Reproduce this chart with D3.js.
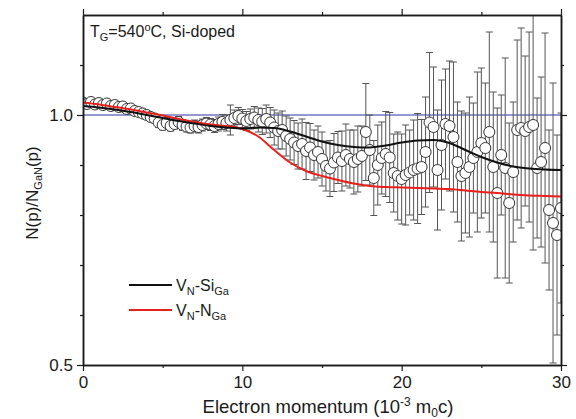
<!DOCTYPE html>
<html>
<head>
<meta charset="utf-8">
<script src="https://cdn.jsdelivr.net/npm/d3@7/dist/d3.min.js"></script>
<style>
body { margin: 0; background: #fff; }
text { font-family: "Liberation Sans", Arial, sans-serif; fill: #1a1a1a; }
</style>
</head>
<body>
<div class="canva"></div>
<script>
// measured points (momentum in 10^-3 m0c)
const momentum = [
  0, 0.25, 0.5, 0.75, 1, 1.25, 1.5, 1.75, 2, 2.25, 2.5, 2.75, 3, 3.25, 3.5, 3.75,
  4, 4.25, 4.5, 4.75, 5, 5.25, 5.5, 5.75, 6, 6.25, 6.5, 6.75, 7, 7.25, 7.5, 7.75,
  8, 8.25, 8.5, 8.75, 9, 9.25, 9.5, 9.75, 10, 10.25, 10.5, 10.75, 11, 11.25, 11.5, 11.75,
  12, 12.25, 12.5, 12.75, 13, 13.25, 13.5, 13.75, 14, 14.25, 14.5, 14.75, 15, 15.25, 15.5, 15.75,
  16, 16.25, 16.5, 16.75, 17, 17.25, 17.5, 17.75, 18, 18.25, 18.5, 18.75, 19, 19.25, 19.5, 19.75,
  20, 20.25, 20.5, 20.75, 21, 21.25, 21.5, 21.75, 22, 22.25, 22.5, 22.75, 23, 23.25, 23.5, 23.75,
  24, 24.25, 24.5, 24.75, 25, 25.25, 25.5, 25.75, 26, 26.25, 26.5, 26.75, 27, 27.25, 27.5, 27.75,
  28, 28.25, 28.5, 28.75, 29, 29.25, 29.5, 29.75, 30
];
const ratio = [
  1.025, 1.022, 1.026, 1.021, 1.024, 1.020, 1.023, 1.018, 1.020, 1.016, 1.017, 1.012, 1.013, 1.008, 1.006, 1.003,
  1.000, 0.996, 0.993, 0.985, 0.980, 0.984, 0.978, 0.982, 0.986, 0.980, 0.977, 0.975, 0.978, 0.976, 0.980, 0.983,
  0.981, 0.978, 0.982, 0.986, 0.984, 0.990, 0.994, 0.998, 0.993, 0.988, 0.992, 0.995, 0.990, 0.987, 0.992, 0.985,
  0.975, 0.968, 0.970, 0.958, 0.952, 0.945, 0.938, 0.942, 0.928, 0.935, 0.920, 0.926, 0.912, 0.898, 0.893, 0.905,
  0.915, 0.908, 0.920, 0.912, 0.906, 0.912, 0.918, 0.966, 0.930, 0.874, 0.900, 0.914, 0.922, 0.915, 0.884, 0.878,
  0.872, 0.880, 0.885, 0.890, 0.893, 0.896, 0.926, 0.985, 0.976, 0.890, 0.940, 0.982, 0.978, 0.956, 0.906, 0.878,
  0.884, 0.896, 0.914, 0.926, 0.944, 0.934, 0.966, 0.896, 0.844, 0.920, 0.894, 0.824, 0.886, 0.970, 0.974, 0.968,
  0.976, 0.980, 0.894, 0.906, 0.934, 0.810, 0.784, 0.760, 0.814
];
const ratioErr = [
  0.006, 0.006, 0.006, 0.006, 0.006, 0.007, 0.007, 0.007, 0.007, 0.007, 0.007, 0.008, 0.008, 0.008, 0.008, 0.008,
  0.009, 0.009, 0.009, 0.010, 0.010, 0.010, 0.010, 0.010, 0.011, 0.011, 0.011, 0.011, 0.012, 0.012, 0.012, 0.012,
  0.012, 0.013, 0.014, 0.015, 0.016, 0.030, 0.016, 0.017, 0.018, 0.019, 0.020, 0.022, 0.024, 0.026, 0.028, 0.030,
  0.035, 0.036, 0.038, 0.040, 0.042, 0.044, 0.046, 0.050, 0.057, 0.048, 0.050, 0.052, 0.054, 0.050, 0.056, 0.058,
  0.052, 0.060, 0.062, 0.058, 0.064, 0.066, 0.060, 0.097, 0.070, 0.075, 0.080, 0.072, 0.085, 0.090, 0.078, 0.088,
  0.090, 0.100, 0.085, 0.100, 0.110, 0.095, 0.110, 0.140, 0.120, 0.120, 0.130, 0.110, 0.130, 0.150, 0.120, 0.130,
  0.120, 0.140, 0.110, 0.160, 0.150, 0.130, 0.200, 0.150, 0.170, 0.120, 0.220, 0.160, 0.140, 0.180, 0.200, 0.150,
  0.190, 0.250, 0.140, 0.170, 0.230, 0.160, 0.280, 0.200, 0.190
];

// model curves
const fitMomentum = [0, 1, 2, 3, 4, 5, 6, 7, 8, 9, 10, 11, 12, 13, 14, 15, 16, 17, 18, 19, 20, 21, 22, 23, 24, 25, 26, 27, 28, 29, 30];
const fitSiGa = [1.018, 1.015, 1.011, 1.006, 1.000, 0.994, 0.988, 0.983, 0.978, 0.975, 0.973, 0.975, 0.974, 0.967, 0.957, 0.947,
  0.940, 0.936, 0.935, 0.939, 0.945, 0.949, 0.950, 0.944, 0.930, 0.916, 0.905, 0.897, 0.893, 0.891, 0.890];
const fitNGa = [1.025, 1.021, 1.016, 1.011, 1.005, 0.999, 0.992, 0.986, 0.981, 0.978, 0.972, 0.957, 0.930, 0.905, 0.888, 0.878,
  0.870, 0.863, 0.858, 0.856, 0.855, 0.854, 0.853, 0.852, 0.849, 0.846, 0.844, 0.841, 0.839, 0.838, 0.837];

const xMajor = [0, 10, 20, 30];
const xMinor = [5, 15, 25];
const yMajor = [0.5, 1.0];
const yMinor = [0.6, 0.7, 0.8, 0.9, 1.1];

const width = 576, height = 419;
const margin = {top: 15, right: 15, bottom: 54, left: 83};
const graphWidth = width - margin.left - margin.right;
const graphHeight = height - margin.top - margin.bottom;

const svg = d3.select(".canva").append("svg")
    .attr("width", width)
    .attr("height", height);

const graph = svg.append("g")
    .attr("transform", `translate(${margin.left},${margin.top})`);

const x = d3.scaleLinear().domain([0, 30]).range([0, graphWidth]);
const y = d3.scaleLinear().domain([0.5, 1.2]).range([graphHeight, 0]);

svg.append("defs").append("clipPath").attr("id", "plotclip")
  .append("rect").attr("width", graphWidth).attr("height", graphHeight);

const plot = graph.append("g").attr("clip-path", "url(#plotclip)");

// reference line at 1
plot.append("line")
    .attr("x1", 0).attr("x2", graphWidth)
    .attr("y1", y(1)).attr("y2", y(1))
    .attr("stroke", "#7474c4")
    .attr("stroke-width", 1.3);

const pts = momentum.map((m, i) => ({m: m, v: ratio[i], e: ratioErr[i]}));

// error bars
const bars = plot.append("g").attr("stroke", "#555").attr("stroke-width", 1);
bars.selectAll("line.eb")
    .data(pts).enter().append("line")
    .attr("class", "eb")
    .attr("x1", d => x(d.m)).attr("x2", d => x(d.m))
    .attr("y1", d => y(d.v + d.e)).attr("y2", d => y(d.v - d.e));
bars.selectAll("line.cap-t")
    .data(pts).enter().append("line")
    .attr("x1", d => x(d.m) - 3.5).attr("x2", d => x(d.m) + 3.5)
    .attr("y1", d => y(d.v + d.e)).attr("y2", d => y(d.v + d.e));
bars.selectAll("line.cap-b")
    .data(pts).enter().append("line")
    .attr("x1", d => x(d.m) - 3.5).attr("x2", d => x(d.m) + 3.5)
    .attr("y1", d => y(d.v - d.e)).attr("y2", d => y(d.v - d.e));

plot.selectAll("circle")
    .data(pts).enter().append("circle")
    .attr("cx", d => x(d.m))
    .attr("cy", d => y(d.v))
    .attr("r", 5.5)
    .attr("fill", "#fff")
    .attr("stroke", "#333")
    .attr("stroke-width", 1);

const line = d3.line()
    .x((d, i) => x(fitMomentum[i]))
    .y(d => y(d))
    .curve(d3.curveMonotoneX);

plot.append("path").datum(fitNGa)
    .attr("d", line)
    .attr("fill", "none")
    .attr("stroke", "#e8201c")
    .attr("stroke-width", 2);

plot.append("path").datum(fitSiGa)
    .attr("d", line)
    .attr("fill", "none")
    .attr("stroke", "#111")
    .attr("stroke-width", 2);

// axes: all four sides, ticks outward
function styleAxis(g) {
  g.select(".domain").attr("stroke", "#1a1a1a").attr("stroke-width", 1.5);
  g.selectAll(".tick line").attr("stroke", "#1a1a1a").attr("stroke-width", 1.2);
  g.selectAll("text").attr("font-size", 17).attr("fill", "#1a1a1a")
    .attr("font-family", "Liberation Sans, Arial, sans-serif");
}

graph.append("g").attr("transform", `translate(0,${graphHeight})`)
    .call(d3.axisBottom(x).tickValues(xMajor).tickSize(6).tickSizeOuter(0).tickPadding(5).tickFormat(d3.format("d")))
    .call(styleAxis);
graph.append("g").attr("transform", `translate(0,${graphHeight})`)
    .call(d3.axisBottom(x).tickValues(xMinor).tickSize(3).tickSizeOuter(0).tickFormat(""))
    .call(styleAxis);
graph.append("g")
    .call(d3.axisTop(x).tickValues(xMajor).tickSize(6).tickSizeOuter(0).tickFormat(""))
    .call(styleAxis);
graph.append("g")
    .call(d3.axisTop(x).tickValues(xMinor).tickSize(3).tickSizeOuter(0).tickFormat(""))
    .call(styleAxis);

graph.append("g")
    .call(d3.axisLeft(y).tickValues(yMajor).tickSize(6).tickSizeOuter(0).tickPadding(4).tickFormat(d3.format(".1f")))
    .call(styleAxis);
graph.append("g")
    .call(d3.axisLeft(y).tickValues(yMinor).tickSize(3).tickSizeOuter(0).tickFormat(""))
    .call(styleAxis);
graph.append("g").attr("transform", `translate(${graphWidth},0)`)
    .call(d3.axisRight(y).tickValues(yMajor).tickSize(6).tickSizeOuter(0).tickFormat(""))
    .call(styleAxis);
graph.append("g").attr("transform", `translate(${graphWidth},0)`)
    .call(d3.axisRight(y).tickValues(yMinor).tickSize(3).tickSizeOuter(0).tickFormat(""))
    .call(styleAxis);

// annotation
const title = graph.append("text").attr("x", 7).attr("y", 22).attr("font-size", 16);
title.append("tspan").text("T");
title.append("tspan").attr("font-size", 11).attr("dy", 4).text("G");
title.append("tspan").attr("dy", -4).text("=540");
title.append("tspan").attr("font-size", 11).attr("dy", -6).text("o");
title.append("tspan").attr("dy", 6).text("C, Si-doped");

// axis titles
const xl = svg.append("text")
    .attr("x", margin.left + graphWidth / 2 + 6).attr("y", 413)
    .attr("text-anchor", "middle").attr("font-size", 18.5);
xl.append("tspan").text("Electron momentum (10");
xl.append("tspan").attr("font-size", 12).attr("dy", -7).text("-3");
xl.append("tspan").attr("dy", 7).text(" m");
xl.append("tspan").attr("font-size", 12).attr("dy", 4).text("0");
xl.append("tspan").attr("dy", -4).text("c)");

const yl = svg.append("text")
    .attr("transform", `translate(38,${margin.top + graphHeight / 2 + 3}) rotate(-90)`)
    .attr("text-anchor", "middle").attr("font-size", 17);
yl.append("tspan").text("N(p)/N");
yl.append("tspan").attr("font-size", 11).attr("dy", 4).text("GaN");
yl.append("tspan").attr("dy", -4).text("(p)");

// legend
const legendItems = [
  {color: "#111", main: "V", sub1: "N", mid: "-Si", sub2: "Ga"},
  {color: "#e8201c", main: "V", sub1: "N", mid: "-N", sub2: "Ga"}
];
const legend = graph.selectAll("g.legend")
    .data(legendItems).enter().append("g")
    .attr("class", "legend")
    .attr("transform", (d, i) => `translate(46,${270 + i * 25})`);
legend.append("line")
    .attr("x1", 0).attr("x2", 43)
    .attr("stroke", d => d.color).attr("stroke-width", 2);
const lt = legend.append("text").attr("x", 47).attr("y", 6).attr("font-size", 16);
lt.append("tspan").text(d => d.main);
lt.append("tspan").attr("font-size", 11).attr("dy", 4).text(d => d.sub1);
lt.append("tspan").attr("dy", -4).text(d => d.mid);
lt.append("tspan").attr("font-size", 11).attr("dy", 4).text(d => d.sub2);
</script>
</body>
</html>
